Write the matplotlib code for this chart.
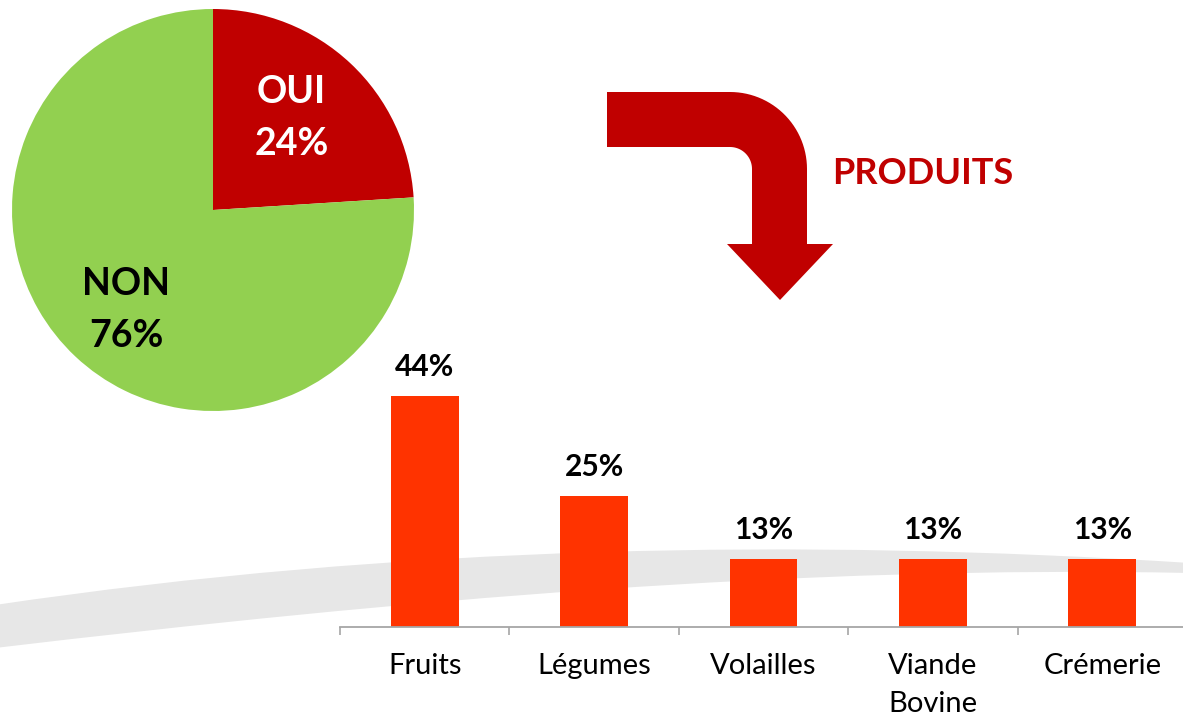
import numpy as np
import matplotlib
matplotlib.use("Agg")
import matplotlib.pyplot as plt
from matplotlib.path import Path
from matplotlib.patches import PathPatch

plt.rcParams['font.family'] = ['Lato', 'DejaVu Sans']

# pie: participation
pie_labels = ["OUI", "NON"]
pie_values = [24, 76]
pie_colors = ["#C00000", "#92D050"]
pie_text_colors = ["white", "black"]

# bars: products
products = ["Fruits", "Légumes", "Volailles", "Viande\nBovine", "Crémerie"]
shares = [44, 25, 13, 13, 13]
bar_color = "#FF3300"

W, H = 1183, 716
fig = plt.figure(figsize=(W / 100, H / 100), dpi=100)


def px_box(x0, y0, x1, y1):
    # pixel box (top-left origin) -> figure fraction rect
    return [x0 / W, 1 - y1 / H, (x1 - x0) / W, (y1 - y0) / H]


# background layer: grey swoosh + bent arrow, drawn in pixel units
bg = fig.add_axes([0, 0, 1, 1], zorder=0)
bg.set_xlim(0, W)
bg.set_ylim(H, 0)
bg.axis("off")

swoosh = Path(
    [(-5, 605), (400, 545), (800, 538), (1190, 563),
     (1190, 573),
     (800, 565), (400, 600), (-5, 648),
     (-5, 605)],
    [Path.MOVETO, Path.CURVE4, Path.CURVE4, Path.CURVE4,
     Path.LINETO,
     Path.CURVE4, Path.CURVE4, Path.CURVE4,
     Path.CLOSEPOLY])
bg.add_patch(PathPatch(swoosh, facecolor="#E7E7E7", edgecolor="none"))

cx, cy = 730, 169
th = np.linspace(np.pi / 2, 0, 30)
outer = np.column_stack([cx + 77 * np.cos(th), cy - 77 * np.sin(th)])
inner = np.column_stack([cx + 22 * np.cos(th[::-1]), cy - 22 * np.sin(th[::-1])])
pts = np.vstack([[(607, 92)], outer,
                 [(807, 244), (833, 244), (780, 300), (727, 244), (752, 244)],
                 inner, [(607, 147)]])
bg.fill(pts[:, 0], pts[:, 1], color="#C00000", lw=0)

fig.text(832 / W, 1 - 174 / H, "PRODUITS", color="#C00000", fontsize=26,
         fontweight="bold", ha="left", va="center")

# pie chart
ax_pie = fig.add_axes(px_box(12, 9, 414, 411), zorder=1)
wedges, texts = ax_pie.pie(
    pie_values, colors=pie_colors, startangle=90, counterclock=False,
    labels=[f"{l}\n{v}%" for l, v in zip(pie_labels, pie_values)],
    labeldistance=0.63,
    textprops=dict(fontsize=27, fontweight="bold", ha="center", va="center",
                   linespacing=1.65),
    wedgeprops=dict(linewidth=0))
for t, c in zip(texts, pie_text_colors):
    t.set_color(c)
px, py = texts[0].get_position()
texts[0].set_position((px - 0.04, py))
px, py = texts[1].get_position()
texts[1].set_position((px, py - 0.04))
ax_pie.set_xlim(-1, 1)
ax_pie.set_ylim(-1, 1)
ax_pie.set_aspect("equal")

# bar chart
ax = fig.add_axes(px_box(340, 627 - 5.25 * 50, 1187, 627), zorder=2)
ax.patch.set_alpha(0)
x = np.arange(len(products))
bars = ax.bar(x, shares, width=0.4, color=bar_color)
for b, v in zip(bars, shares):
    ax.annotate(f"{v}%", (b.get_x() + b.get_width() / 2, v),
                xytext=(0, 21), textcoords="offset points", ha="center",
                va="center", fontsize=21.5, fontweight="bold", color="black",
                annotation_clip=False)
ax.set_xlim(-0.5, len(products) - 0.5)
ax.set_ylim(0, 50)
for s in ["top", "left", "right"]:
    ax.spines[s].set_visible(False)
ax.spines["bottom"].set_color("#A6A6A6")
ax.spines["bottom"].set_linewidth(1.3)
ax.set_yticks([])
ax.set_xticks(x, products)
ax.set_xticks(np.arange(-0.5, len(products)), minor=True)
ax.tick_params(axis="x", which="major", length=0, pad=19, labelsize=21,
               labelcolor="black")
ax.tick_params(axis="x", which="minor", length=6, width=1.2, color="#A6A6A6")
for lab in ax.get_xticklabels():
    lab.set_linespacing(1.55)

fig.savefig("out.png", dpi=100)
